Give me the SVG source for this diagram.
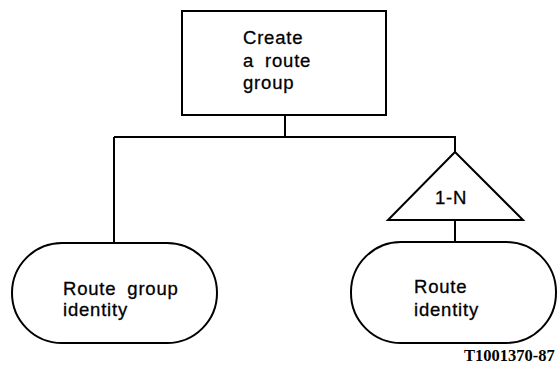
<svg xmlns="http://www.w3.org/2000/svg" width="558" height="383" viewBox="0 0 558 383">
<style>
.s{fill:#fff;stroke:#000;stroke-width:2}
.l{fill:none;stroke:#000;stroke-width:2}
.t{font-family:"Liberation Sans",Arial,sans-serif;font-size:18.5px;letter-spacing:0.8px;word-spacing:5px;fill:#000;stroke:#000;stroke-width:0.3}
.r{font-family:"Liberation Serif","Times New Roman",serif;font-size:16.5px;font-weight:bold;fill:#000}
</style>
<rect width="558" height="383" fill="#fff"/>
<g id="connectors">
<path class="l" d="M285 115V137M114 137H455V152M114 137V243M455 220V242"/>
</g>
<g id="create">
<rect class="s" x="182" y="11" width="204" height="104"/>
<text class="t" x="243" y="44">Create</text>
<text class="t" x="243" y="67">a route</text>
<text class="t" x="243" y="89">group</text>
</g>
<g id="onen">
<polygon class="s" points="455,152 523,220 388,220"/>
<text class="t" x="435" y="204">1-N</text>
</g>
<g id="routegroup">
<rect class="s" x="12" y="243" width="205" height="100" rx="50" ry="50"/>
<text class="t" x="63" y="295">Route group</text>
<text class="t" x="63" y="316">identity</text>
</g>
<g id="route">
<rect class="s" x="351" y="242" width="205" height="101" rx="50" ry="50"/>
<text class="t" x="414" y="293">Route</text>
<text class="t" x="414" y="316">identity</text>
</g>
<text class="r" x="464" y="361">T1001370-87</text>
</svg>
